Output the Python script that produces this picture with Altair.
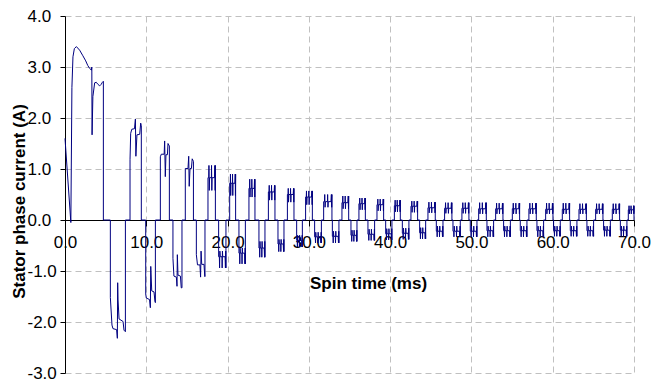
import altair as alt
import pandas as pd

# ---- early, large pulses read point by point (time in ms, current in A) ----
early_t = [0.00, 0.72, 0.85, 0.98, 1.15, 1.40, 1.80, 2.20, 2.55, 2.80, 3.04, 3.25, 3.30, 3.33, 3.43, 3.65, 3.85, 4.05, 4.27, 4.45, 4.60, 4.72, 4.72,
           5.58, 5.58, 5.78, 5.90, 6.35, 6.44, 6.48, 6.52, 6.65, 7.14, 7.26, 7.43, 7.43,
           8.00, 8.00, 8.08, 8.22, 8.55, 8.66, 8.72, 8.85, 9.19, 9.31, 9.39, 9.39,
           9.93, 9.93, 10.00, 10.40, 10.50, 10.55, 10.67, 10.95, 11.07, 11.12, 11.12,
           11.73, 11.73, 11.85, 12.20, 12.26, 12.34, 12.42, 12.60, 12.67, 12.84, 12.84,
           13.28, 13.28, 13.40, 13.70, 13.78, 13.82, 13.90, 14.20, 14.30, 14.39, 14.39,
           14.80, 14.80, 15.13, 15.22, 15.28, 15.38, 15.55, 15.65, 15.80, 15.80,
           16.16, 16.16, 16.30, 16.60, 16.68, 16.74, 16.82, 17.10, 17.20, 17.22, 17.22]
early_i = [1.60, -0.05, 2.60, 3.20, 3.36, 3.40, 3.33, 3.22, 3.12, 3.03, 2.97, 2.94, 3.00, 1.67, 2.42, 2.69, 2.70, 2.66, 2.63, 2.66, 2.70, 2.72, 0.00,
           0.00, -1.52, -2.06, -2.13, -2.15, -2.32, -1.23, -1.55, -1.94, -1.99, -2.16, -2.19, 0.00,
           0.00, 1.18, 1.70, 1.78, 1.79, 1.98, 1.25, 1.67, 1.68, 1.90, 1.85, 0.00,
           0.00, -1.45, -1.53, -1.56, -1.72, -0.91, -1.39, -1.41, -1.60, -1.62, 0.00,
           0.00, 1.24, 1.29, 1.29, 1.55, 0.85, 1.28, 1.28, 1.50, 1.45, 0.00,
           0.00, -0.75, -1.10, -1.12, -1.30, -0.68, -1.08, -1.10, -1.33, -1.33, 0.00,
           0.00, 1.01, 1.01, 1.25, 0.66, 1.01, 1.01, 1.20, 1.15, 0.00,
           0.00, -0.68, -0.88, -0.88, -1.12, -0.61, -0.87, -0.87, -1.11, -1.11, 0.00]

# ---- later pulses: start / end (ms), plateau, spike, dip (A) ----
pos_start = [17.59, 20.26, 22.63, 25.02, 27.36, 29.60, 31.82, 34.07, 36.16, 38.38, 40.52, 42.56,
             44.65, 46.70, 48.83, 50.89, 52.98, 55.03, 57.07, 59.13, 61.18, 63.23, 65.28, 67.33, 69.30]
pos_end = [18.50, 20.99, 23.37, 25.83, 28.17, 30.43, 32.84, 34.90, 36.95, 39.20, 41.25, 43.38,
           45.55, 47.60, 49.69, 51.83, 53.88, 55.93, 57.98, 60.03, 62.08, 64.14, 66.18, 68.23, 70.00]
pos_level = [0.83, 0.72, 0.62, 0.55, 0.50, 0.45, 0.36, 0.34, 0.32, 0.30, 0.28, 0.27,
             0.24, 0.23, 0.23, 0.22, 0.22, 0.22, 0.22, 0.21, 0.21, 0.21, 0.21, 0.21, 0.20]
pos_spike = [1.07, 0.90, 0.80, 0.68, 0.62, 0.57, 0.50, 0.47, 0.43, 0.41, 0.39, 0.37,
             0.35, 0.34, 0.34, 0.34, 0.33, 0.33, 0.33, 0.33, 0.33, 0.32, 0.32, 0.32, 0.28]
pos_dip = [0.58, 0.48, 0.45, 0.39, 0.35, 0.30, 0.25, 0.22, 0.20, 0.18, 0.16, 0.15,
           0.14, 0.13, 0.13, 0.12, 0.12, 0.12, 0.12, 0.12, 0.12, 0.12, 0.12, 0.12, 0.12]

neg_start = [18.90, 21.40, 23.86, 26.20, 28.50, 30.71, 32.89, 35.18, 37.27, 39.45, 41.50, 43.63,
             45.68, 47.73, 49.86, 51.91, 53.96, 56.01, 58.06, 60.11, 62.16, 64.21, 66.26, 68.32]
neg_end = [19.80, 22.19, 24.60, 26.94, 29.20, 31.54, 33.70, 35.92, 38.09, 40.22, 42.31, 44.37,
           46.50, 48.63, 50.68, 52.73, 54.79, 56.83, 58.88, 60.93, 62.98, 65.03, 67.09, 69.13]
neg_level = [-0.72, -0.65, -0.55, -0.47, -0.40, -0.33, -0.32, -0.30, -0.28, -0.27, -0.26, -0.25,
             -0.22, -0.22, -0.22, -0.21, -0.21, -0.21, -0.21, -0.21, -0.21, -0.21, -0.20, -0.20]
neg_spike = [-0.94, -0.86, -0.73, -0.62, -0.53, -0.45, -0.45, -0.42, -0.40, -0.39, -0.38, -0.37,
             -0.33, -0.33, -0.33, -0.33, -0.33, -0.33, -0.33, -0.32, -0.32, -0.32, -0.32, -0.32]
neg_dip = [-0.61, -0.55, -0.42, -0.38, -0.30, -0.24, -0.22, -0.20, -0.18, -0.17, -0.16, -0.15,
           -0.12, -0.12, -0.12, -0.12, -0.12, -0.12, -0.12, -0.12, -0.12, -0.12, -0.12, -0.12]

x_ticks = [0, 10, 20, 30, 40, 50, 60, 70]
y_ticks = [-3, -2, -1, 0, 1, 2, 3, 4]

# ---- build the table ----
pulses = list(zip(pos_start, pos_end, pos_level, pos_spike, pos_dip)) + \
         list(zip(neg_start, neg_end, neg_level, neg_spike, neg_dip))
pulses.sort()
shape = [(0.0, "z"), (0.0, "l"), (0.10, "l"), (0.13, "h"), (0.17, "d"), (0.22, "l"),
         (0.46, "l"), (0.48, "h"), (0.52, "d"), (0.56, "l"),
         (0.88, "l"), (0.93, "h"), (0.97, "d"), (1.0, "h"), (1.0, "z")]
T = list(early_t)
I = list(early_i)
for s, e, l, h, d in pulses:
    vals = {"z": 0.0, "l": l, "h": h, "d": d}
    for f, key in shape:
        T.append(s + f * (e - s))
        I.append(vals[key])

df = pd.DataFrame({"t": T, "i": I, "k": list(range(len(T)))})

FONT = "Liberation Sans"

chart = alt.Chart(df).mark_line(color="#000080", strokeWidth=1).encode(
    x=alt.X("t:Q",
            scale=alt.Scale(domain=[0, 70], nice=False, zero=False),
            axis=alt.Axis(values=x_ticks, labelExpr="format(datum.value, '.1f')",
                          offset=-153, grid=True, gridDash=[6, 4], gridColor="#c0c0c0",
                          gridWidth=1, domainColor="black", domainWidth=1,
                          tickColor="black", tickSize=6, tickWidth=1,
                          labelFont=FONT, labelFontSize=17, labelColor="black",
                          labelPadding=8, labelFlush=False, labelOverlap=False,
                          title="Spin time (ms)", titleFont=FONT, titleFontSize=17,
                          titleFontWeight="bold", titleColor="black",
                          titleX=303, titleY=68, titleAlign="center",
                          titleBaseline="alphabetic")),
    y=alt.Y("i:Q",
            scale=alt.Scale(domain=[-3, 4], nice=False, zero=False),
            axis=alt.Axis(values=y_ticks,
                          labelExpr="datum.value < 0 ? '-' + format(-datum.value, '.1f') : format(datum.value, '.1f')",
                          grid=True, gridDash=[6, 4], gridColor="#c0c0c0", gridWidth=1,
                          domainColor="black", domainWidth=1,
                          tickColor="black", tickSize=5, tickWidth=1,
                          labelFont=FONT, labelFontSize=17, labelColor="black",
                          labelAlign="left", labelBaseline="middle", labelPadding=33,
                          labelFlush=False, labelOverlap=False,
                          title="Stator phase current (A)", titleFont=FONT,
                          titleFontSize=17, titleFontWeight="bold", titleColor="black",
                          titleAngle=270, titleX=-41, titleY=185, titleAlign="center",
                          titleBaseline="alphabetic")),
    order=alt.Order("k:Q"),
).properties(
    width=569, height=357,
    padding={"left": 65, "top": 16, "right": 19, "bottom": 7},
    autosize=alt.AutoSizeParams(type="none"),
    background="white",
).configure_view(strokeWidth=0)

chart.save("out.html", embed_options={"renderer": "svg", "actions": False})
